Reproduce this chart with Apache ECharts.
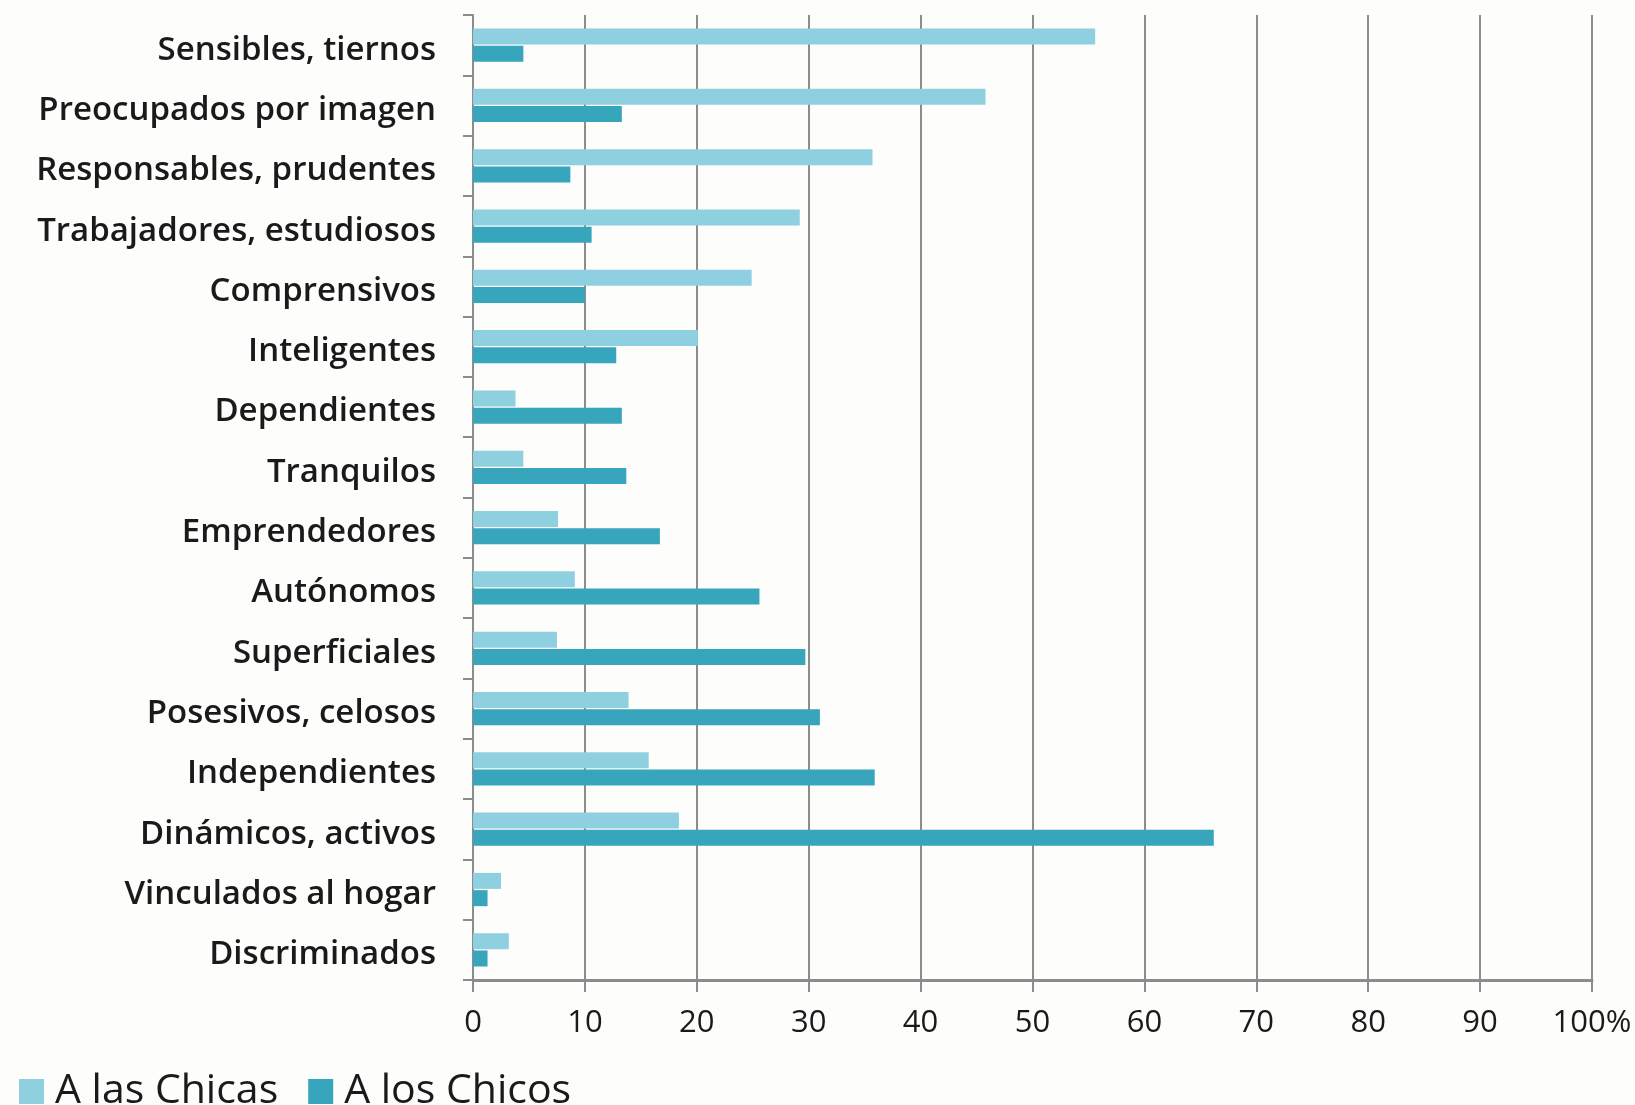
<!DOCTYPE html>
<html>
<head>
<meta charset="utf-8">
<script src="https://cdn.jsdelivr.net/npm/echarts@6/dist/echarts.min.js"></script>
<style>
html,body{margin:0;padding:0;background:#fdfdfb;}
#c{width:1635px;height:1105px;}
</style>
</head>
<body>
<div id="c"></div>
<script>
const categories = [
  "Sensibles, tiernos",
  "Preocupados por imagen",
  "Responsables, prudentes",
  "Trabajadores, estudiosos",
  "Comprensivos",
  "Inteligentes",
  "Dependientes",
  "Tranquilos",
  "Emprendedores",
  "Autónomos",
  "Superficiales",
  "Posesivos, celosos",
  "Independientes",
  "Dinámicos, activos",
  "Vinculados al hogar",
  "Discriminados"
];
const seriesNames = ["A las Chicas", "A los Chicos"];
const chicas = [55.6, 45.8, 35.7, 29.2, 24.9, 20.1, 3.8, 4.5, 7.6, 9.1, 7.5, 13.9, 15.7, 18.4, 2.5, 3.2];
const chicos = [4.5, 13.3, 8.7, 10.6, 10.0, 12.8, 13.3, 13.7, 16.7, 25.6, 29.7, 31.0, 35.9, 66.2, 1.3, 1.3];
const xTicks = [0, 10, 20, 30, 40, 50, 60, 70, 80, 90, 100];

const chart = echarts.init(document.getElementById('c'), null, {renderer: 'canvas'});
const gray = '#8c8c8c';
chart.setOption({
  backgroundColor: '#fdfdfb',
  animation: false,
  grid: {left: 473, right: 43, top: 15, bottom: 125, containLabel: false},
  legend: {
    left: 14, top: 1066,
    itemWidth: 25, itemHeight: 25, itemGap: 30,
    icon: 'rect',
    textStyle: {fontFamily: 'Open Sans', fontSize: 41, color: '#1a1a1a', padding: [0,0,0,6]},
    data: seriesNames
  },
  xAxis: {
    type: 'value', min: 0, max: 100, interval: 10,
    axisLine: {show: true, lineStyle: {color: gray, width: 3}},
    axisTick: {show: true, length: 12, lineStyle: {color: gray, width: 2}},
    splitLine: {show: true, lineStyle: {color: gray, width: 2}},
    axisLabel: {
      margin: 28,
      fontFamily: 'Open Sans', fontSize: 31, color: '#1a1a1a',
      formatter: v => xTicks.includes(v) ? (v === 100 ? '100%' : String(v)) : ''
    }
  },
  yAxis: {
    type: 'category', data: categories, inverse: true,
    axisLine: {show: true, lineStyle: {color: gray, width: 2}},
    axisTick: {show: true, length: 10, lineStyle: {color: gray, width: 2}},
    axisLabel: {
      margin: 37,
      formatter: v => '{t|' + v + '}',
      rich: {t: {fontFamily: 'Open Sans', fontWeight: 600, fontSize: 33, color: '#1a1a1a', padding: [10, 0, 0, 0]}}
    }
  },
  series: [
    {name: seriesNames[0], type: 'bar', data: chicas, barWidth: 16, barGap: '8%',
     itemStyle: {color: '#8ecfe0'}},
    {name: seriesNames[1], type: 'bar', data: chicos, barWidth: 16, barGap: '8%',
     itemStyle: {color: '#37a5bc'}}
  ]
});
</script>
</body>
</html>
